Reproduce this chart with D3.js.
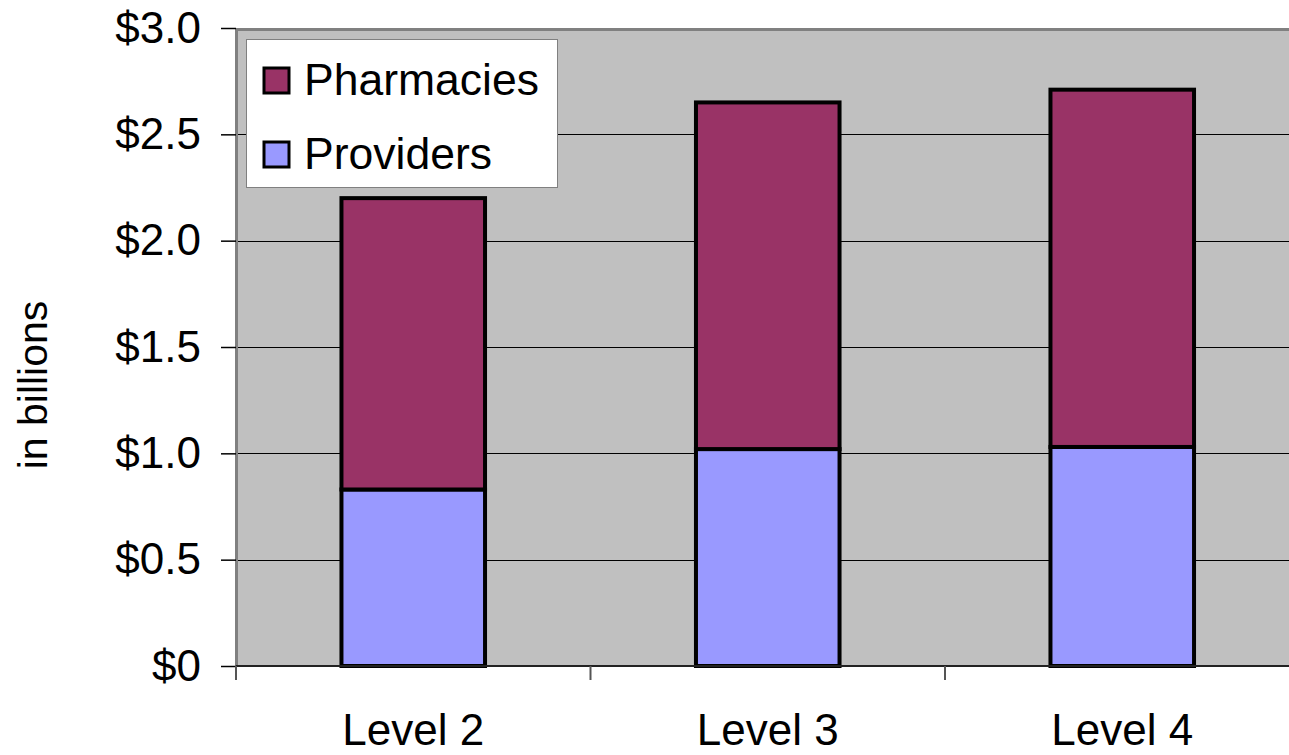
<!DOCTYPE html>
<html>
<head>
<meta charset="utf-8">
<script src="https://cdn.jsdelivr.net/npm/d3@7"></script>
<style>
  html, body { margin: 0; padding: 0; background: #ffffff; overflow: hidden; }
  svg { display: block; font-family: "Liberation Sans", Arial, sans-serif; }
</style>
</head>
<body>
<svg id="chart" width="1289" height="755"></svg>
<script>
// Spending by level, in billions of dollars
const categories = ["Level 2", "Level 3", "Level 4"];
const providers  = [0.83, 1.02, 1.03];
const pharmacies = [1.37, 1.63, 1.68];
const seriesNames = ["Providers", "Pharmacies"];
const seriesColors = ["#9999FF", "#993366"];
const yTickValues = [0, 0.5, 1.0, 1.5, 2.0, 2.5, 3.0];
const yTickLabels = ["$0", "$0.5", "$1.0", "$1.5", "$2.0", "$2.5", "$3.0"];

const svg = d3.select("#chart");
const plot = { left: 236, top: 28, bottom: 666, band: 354.5 };
plot.right = plot.left + plot.band * categories.length;

const x = d3.scaleBand().domain(categories).range([plot.left, plot.right]).paddingInner(0).paddingOuter(0);
const y = d3.scaleLinear().domain([0, 3]).range([plot.bottom, plot.top]);
const barFrac = 0.405;

// plot area background
svg.append("rect")
  .attr("x", plot.left).attr("y", plot.top)
  .attr("width", plot.right - plot.left).attr("height", plot.bottom - plot.top)
  .attr("fill", "#C0C0C0");

// horizontal gridlines
svg.append("g").selectAll("line").data(yTickValues.filter(v => v > 0 && v < 3)).join("line")
  .attr("x1", plot.left).attr("x2", plot.right)
  .attr("y1", d => Math.round(y(d)) + 0.5).attr("y2", d => Math.round(y(d)) + 0.5)
  .attr("stroke", "#000").attr("stroke-width", 1);

// plot area border (top and left)
svg.append("path")
  .attr("d", `M${plot.left + 0.5},${plot.bottom} V${plot.top + 1.5} H${plot.right}`)
  .attr("fill", "none").attr("stroke", "#808080").attr("stroke-width", 3);

// stacked bars
const stackData = categories.map((c, i) => ({ cat: c, Providers: providers[i], Pharmacies: pharmacies[i] }));
const stacked = d3.stack().keys(seriesNames)(stackData);
const bw = x.bandwidth() * barFrac;

svg.append("g").selectAll("g").data(stacked).join("g")
  .attr("fill", (d, i) => seriesColors[i])
  .selectAll("rect").data(d => d).join("rect")
  .attr("x", d => x(d.data.cat) + (x.bandwidth() - bw) / 2)
  .attr("y", d => y(d[1]))
  .attr("width", bw)
  .attr("height", d => y(d[0]) - y(d[1]))
  .attr("stroke", "#000").attr("stroke-width", 4);

// y axis
const yAxis = d3.axisLeft(y).tickValues(yTickValues).tickSize(15).tickPadding(20)
  .tickFormat((d, i) => yTickLabels[i]);
const gy = svg.append("g").attr("transform", `translate(${plot.left},0)`).call(yAxis);
gy.select(".domain").remove();
gy.selectAll(".tick line").attr("stroke", "#000").attr("stroke-width", 1.5);
gy.selectAll(".tick text").attr("font-size", 44).attr("fill", "#000")
  .attr("font-family", "'Liberation Sans', Arial, sans-serif");

// x axis baseline and category dividers
svg.append("line")
  .attr("x1", plot.left).attr("x2", plot.right)
  .attr("y1", plot.bottom).attr("y2", plot.bottom)
  .attr("stroke", "#222").attr("stroke-width", 2);
const dividers = categories.map(c => x(c)).concat([plot.right]);
svg.append("g").selectAll("line").data(dividers).join("line")
  .attr("x1", d => d).attr("x2", d => d)
  .attr("y1", plot.bottom).attr("y2", plot.bottom + 14)
  .attr("stroke", "#555").attr("stroke-width", 2);

// category labels
svg.append("g").selectAll("text").data(categories).join("text")
  .attr("x", d => x(d) + x.bandwidth() / 2)
  .attr("y", 745)
  .attr("text-anchor", "middle")
  .attr("font-size", 44).attr("fill", "#000")
  .text(d => d);

// y axis title
svg.append("text")
  .attr("transform", "translate(47,385) rotate(-90)")
  .attr("text-anchor", "middle")
  .attr("font-size", 41).attr("fill", "#000")
  .text("in billions");

// legend
const legend = svg.append("g");
legend.append("rect")
  .attr("x", 246.5).attr("y", 39.5).attr("width", 311).attr("height", 148)
  .attr("fill", "#fff").attr("stroke", "#808080").attr("stroke-width", 1);
const legendItems = [
  { name: "Pharmacies", color: seriesColors[1], y: 80 },
  { name: "Providers", color: seriesColors[0], y: 154 }
];
const li = legend.selectAll("g").data(legendItems).join("g");
li.append("rect")
  .attr("x", 264).attr("y", d => d.y - 12).attr("width", 25).attr("height", 25)
  .attr("fill", d => d.color).attr("stroke", "#000").attr("stroke-width", 3);
li.append("text")
  .attr("x", 304).attr("y", d => d.y + 15)
  .attr("font-size", 44.5).attr("fill", "#000")
  .text(d => d.name);
</script>
</body>
</html>
